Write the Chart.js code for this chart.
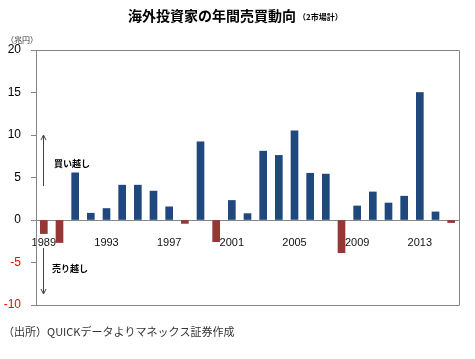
<!DOCTYPE html>
<html>
<head>
<meta charset="utf-8">
<script src="https://cdn.jsdelivr.net/npm/chart.js@4"></script>
<style>
  body { margin: 0; background: #fff; }
  canvas { display: block; }
</style>
</head>
<body>
<canvas id="chart" width="475" height="359"></canvas>
<script>
// 年 (カテゴリ)
const years = ['1989', '1990', '1991', '1992', '1993', '1994', '1995', '1996', '1997',
    '1998', '1999', '2000', '2001', '2002', '2003', '2004', '2005', '2006', '2007',
    '2008', '2009', '2010', '2011', '2012', '2013', '2014', '2015'];

// 海外投資家の年間売買 (兆円)
const netFlows = [-1.6, -2.65, 5.55, 0.8, 1.35, 4.1, 4.1, 3.4, 1.55, -0.4, 9.2, -2.55,
    2.3, 0.75, 8.1, 7.6, 10.5, 5.5, 5.4, -3.85, 1.65, 3.3, 2.0, 2.8, 15.0, 0.95, -0.3];

// 目盛り
const yTickValues = [-10, -5, 0, 5, 10, 15, 20];
const xTickLabels = ['1989', '1993', '1997', '2001', '2005', '2009', '2013'];

const BLUE = '#1F497D';
const RED = '#953735';
const AXIS = '#868686';
const JP = '"Noto Sans CJK JP", sans-serif';

// タイトル・注記・矢印などを描くプラグイン
const decorations = {
    id: 'decorations',
    afterDraw(chart) {
        const c = chart.ctx;
        const a = chart.chartArea;
        const y = chart.scales.y;
        c.save();

        // 枠線 (上・右・下)
        c.strokeStyle = AXIS;
        c.lineWidth = 1;
        c.beginPath();
        c.moveTo(a.left, Math.round(a.top) + 0.5);
        c.lineTo(Math.round(a.right) + 0.5, Math.round(a.top) + 0.5);
        c.lineTo(Math.round(a.right) + 0.5, Math.round(a.bottom) + 0.5);
        c.lineTo(a.left, Math.round(a.bottom) + 0.5);
        c.stroke();

        // タイトル
        c.fillStyle = '#000';
        c.textBaseline = 'middle';
        c.textAlign = 'left';
        c.font = 'bold 14px ' + JP;
        const title = '海外投資家の年間売買動向';
        c.fillText(title, 128, 16);
        const w = c.measureText(title).width;
        c.font = 'bold 8px ' + JP;
        c.fillText('（2市場計）', 128 + w + 2, 17);

        // 単位
        c.font = '8px ' + JP;
        c.fillStyle = '#333';
        c.fillText('（兆円）', 6, 40);

        // 矢印
        const ax = 43.5;
        c.strokeStyle = '#404040';
        c.beginPath();
        c.moveTo(ax, 186); c.lineTo(ax, 136);
        c.moveTo(ax - 2.5, 140); c.lineTo(ax, 135); c.lineTo(ax + 2.5, 140);
        c.moveTo(ax, 248); c.lineTo(ax, 293);
        c.moveTo(ax - 2.5, 289); c.lineTo(ax, 294); c.lineTo(ax + 2.5, 289);
        c.stroke();

        c.fillStyle = '#000';
        c.font = 'bold 9px ' + JP;
        c.fillText('買い越し', 54, 164);
        c.fillText('売り越し', 52, 269);

        // 出所
        c.font = '11px ' + JP;
        c.fillStyle = '#333';
        c.fillText('（出所）QUICKデータよりマネックス証券作成', 3, 332);
        c.restore();
    }
};

new Chart(document.getElementById('chart'), {
    type: 'bar',
    data: {
        labels: years,
        datasets: [{
            data: netFlows,
            backgroundColor: netFlows.map(v => v < 0 ? RED : BLUE),
            barThickness: 7
        }]
    },
    options: {
        responsive: false,
        animation: false,
        layout: { padding: { left: 0, top: 50, right: 16, bottom: 54 } },
        plugins: {
            legend: { display: false },
            tooltip: { enabled: false }
        },
        scales: {
            x: {
                position: { y: 0 },
                grid: { display: false },
                border: { display: true, color: AXIS },
                ticks: {
                    autoSkip: false,
                    maxRotation: 0,
                    padding: 8,
                    color: '#111',
                    font: { family: 'Liberation Sans', size: 11 },
                    callback(value) {
                        const label = this.getLabelForValue(value);
                        return xTickLabels.includes(label) ? label : '';
                    }
                }
            },
            y: {
                min: -10,
                max: 20,
                afterBuildTicks: axis => { axis.ticks = yTickValues.map(v => ({ value: v })); },
                afterFit: scale => { scale.width = 36; },
                grid: { drawOnChartArea: false, drawTicks: true, tickLength: 5, color: AXIS },
                border: { display: true, color: AXIS },
                ticks: {
                    padding: 10,
                    font: { family: 'Liberation Sans', size: 12 },
                    color: ctx => ctx.tick.value < 0 ? '#FF0000' : '#000'
                }
            }
        }
    },
    plugins: [decorations]
});
</script>
</body>
</html>
